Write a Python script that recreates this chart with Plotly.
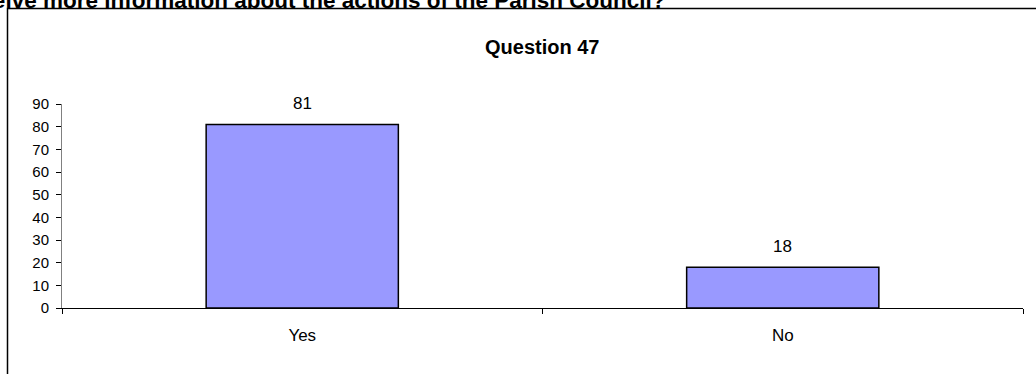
import plotly.graph_objects as go

categories = ["Yes", "No"]
values = [81, 18]
y_ticks = [0, 10, 20, 30, 40, 50, 60, 70, 80, 90]

W, H = 1036, 374
ML, MR, MT, MB = 62, 13, 104, 66
PW, PH = W - ML - MR, H - MT - MB
FONT = "Liberation Sans, Arial"

def px_x(p):
    return (p - ML) / PW

def px_y(p):
    return (H - MB - p) / PH

fig = go.Figure()
fig.add_trace(go.Bar(
    x=categories, y=values, width=0.4,
    marker=dict(color="#9999FF", line=dict(color="black", width=1.5)),
    hoverinfo="skip",
))

for c, v in zip(categories, values):
    fig.add_annotation(x=c, y=v, text=str(v), showarrow=False, yshift=21,
                       font=dict(family=FONT, size=17, color="black"))

fig.add_annotation(xref="paper", yref="paper", x=px_x(542), y=px_y(47),
                   text="<b>Question 47</b>", showarrow=False, xanchor="center", yanchor="middle",
                   font=dict(family=FONT, size=20, color="black"))

fig.add_annotation(xref="paper", yref="paper", x=px_x(667), y=px_y(15),
                   text="<b>Would you like to receive more information about the actions of the Parish Council?</b>",
                   showarrow=False, xanchor="right", yanchor="bottom",
                   font=dict(family=FONT, size=22.5, color="black"))

fig.add_shape(type="rect", xref="paper", yref="paper",
              x0=px_x(7.5), x1=px_x(1060), y0=px_y(8.5), y1=px_y(400),
              line=dict(color="black", width=1.5), fillcolor="rgba(0,0,0,0)", layer="below")

fig.update_layout(
    width=W, height=H,
    margin=dict(l=ML, r=MR, t=MT, b=MB, pad=0),
    paper_bgcolor="white", plot_bgcolor="white",
    showlegend=False,
    font=dict(family=FONT, color="black"),
    xaxis=dict(
        showline=True, linecolor="black", linewidth=1,
        ticks="outside", ticklen=5, tickcolor="black", tickson="boundaries",
        tickfont=dict(size=17, color="black"), ticklabelstandoff=12,
        showgrid=False, zeroline=False, fixedrange=True,
    ),
    yaxis=dict(
        range=[0, 90], tickvals=y_ticks, showline=True, linecolor="#808080", linewidth=1,
        ticks="outside", ticklen=5, tickcolor="black",
        tickfont=dict(size=15, color="black"), ticklabelstandoff=4,
        showgrid=False, zeroline=False, fixedrange=True,
    ),
)

fig.write_html("out.html", config={"displayModeBar": False},
               post_script="document.body.style.margin='0px';")
